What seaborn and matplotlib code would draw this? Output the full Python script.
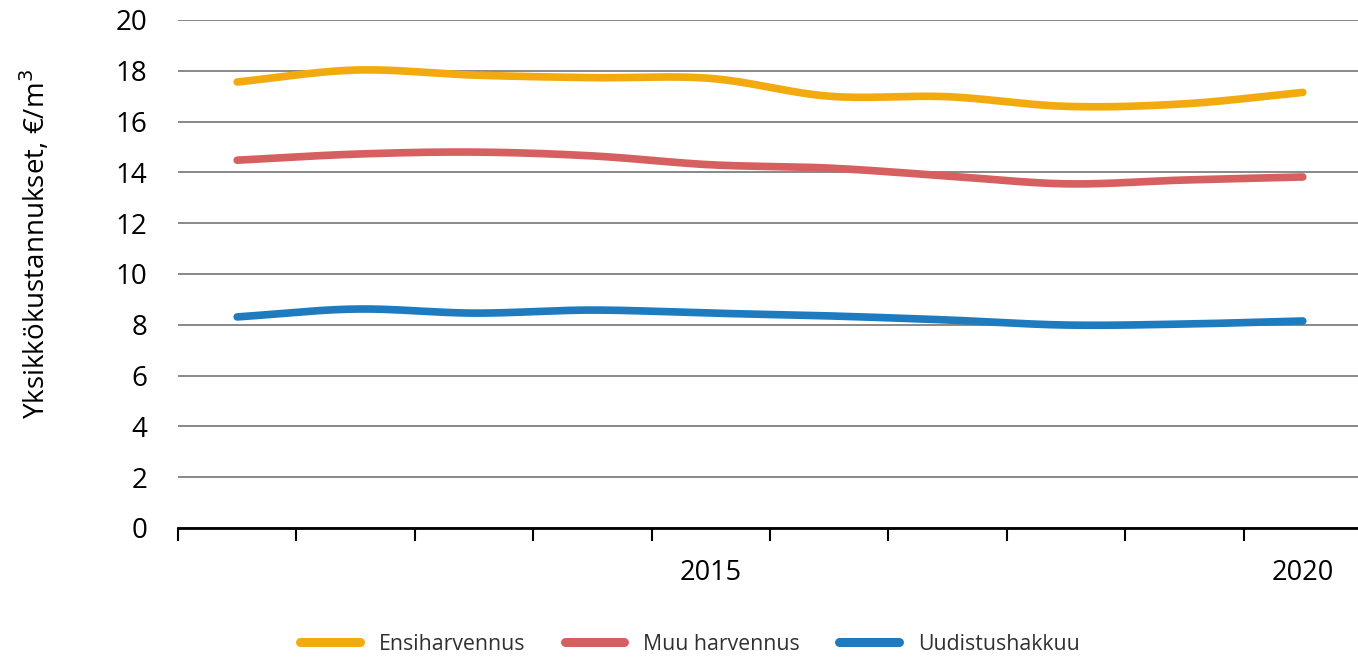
import numpy as np
import pandas as pd
import matplotlib
matplotlib.use('Agg')
import matplotlib.pyplot as plt
import seaborn as sns

years = [2011, 2012, 2013, 2014, 2015, 2016, 2017, 2018, 2019, 2020]
ensiharvennus = [17.56, 18.03, 17.83, 17.73, 17.70, 17.00, 16.98, 16.60, 16.70, 17.15]
muu_harvennus = [14.48, 14.72, 14.80, 14.65, 14.30, 14.17, 13.86, 13.55, 13.70, 13.82]
uudistushakkuu = [8.31, 8.62, 8.46, 8.58, 8.46, 8.35, 8.19, 7.99, 8.03, 8.15]
series_names = ['Ensiharvennus', 'Muu harvennus', 'Uudistushakkuu']
colors = ['#F2AA0F', '#D65F5F', '#1F7BBF']
tick_labels = {4: '2015', 9: '2020'}


def smooth(vals, n=30):
    # catmull-rom style smoothing like excel's smoothed line
    p = np.array(vals, dtype=float)
    pts = np.concatenate([[2 * p[0] - p[1]], p, [2 * p[-1] - p[-2]]])
    xs, ys = [], []
    for i in range(1, len(pts) - 2):
        t = np.linspace(0, 1, n, endpoint=False)
        p0, p1, p2, p3 = pts[i - 1], pts[i], pts[i + 1], pts[i + 2]
        y = 0.5 * ((2 * p1) + (-p0 + p2) * t + (2 * p0 - 5 * p1 + 4 * p2 - p3) * t ** 2
                   + (-p0 + 3 * p1 - 3 * p2 + p3) * t ** 3)
        xs.extend(i - 1 + t)
        ys.extend(y)
    xs.append(len(p) - 1)
    ys.append(p[-1])
    return np.array(xs), np.array(ys)


frames = []
for name, vals in zip(series_names, [ensiharvennus, muu_harvennus, uudistushakkuu]):
    x, y = smooth(vals)
    frames.append(pd.DataFrame({'x': x, 'y': y, 'sarja': name}))
df = pd.concat(frames)

sns.set_style('white')
plt.rcParams['font.family'] = ['Open Sans', 'DejaVu Sans']

fig = plt.figure(figsize=(13.58, 6.58), dpi=100)
ax = fig.add_axes([178 / 1358, 1 - 528 / 658, 1184 / 1358, 508 / 658])

sns.lineplot(data=df, x='x', y='y', hue='sarja', palette=colors, linewidth=5.5,
             ax=ax, legend=False, sort=False, solid_capstyle='round')

ax.set_xlim(-0.5, 9.5)
ax.set_ylim(0, 20)
ax.set_yticks(range(0, 21, 2))
ax.yaxis.grid(True, color='#7f7f7f', linewidth=1.3)
ax.set_axisbelow(True)
ax.tick_params(axis='y', labelsize=20, length=0, pad=22, labelcolor='black')

ax.set_xticks(list(tick_labels.keys()))
ax.set_xticklabels(list(tick_labels.values()))
ax.set_xticks(np.arange(-0.5, 10, 1), minor=True)
ax.tick_params(axis='x', which='major', length=0, labelsize=19.5, pad=22, labelcolor='black')
ax.tick_params(axis='x', which='minor', bottom=True, length=9, width=1.5, color='black',
               direction='out')
ax.set_xlabel('')
ax.set_ylabel('Yksikkökustannukset, €/m$^3$', fontsize=20, color='black')
ax.yaxis.set_label_coords(-0.106, 0.559)

for s in ['top', 'right', 'left']:
    ax.spines[s].set_visible(False)
ax.spines['bottom'].set_color('black')
ax.spines['bottom'].set_linewidth(2)

handles = [plt.Line2D([0], [0], color=c, linewidth=6.5, solid_capstyle='round') for c in colors]
leg = fig.legend(handles, series_names, loc='lower center', bbox_to_anchor=(0.508, -0.024), ncol=3,
                 frameon=False, fontsize=15.3, handlelength=2.8, columnspacing=1.85,
                 handletextpad=0.9)
for t in leg.get_texts():
    t.set_color('#303030')

fig.savefig('out.png', dpi=100)
